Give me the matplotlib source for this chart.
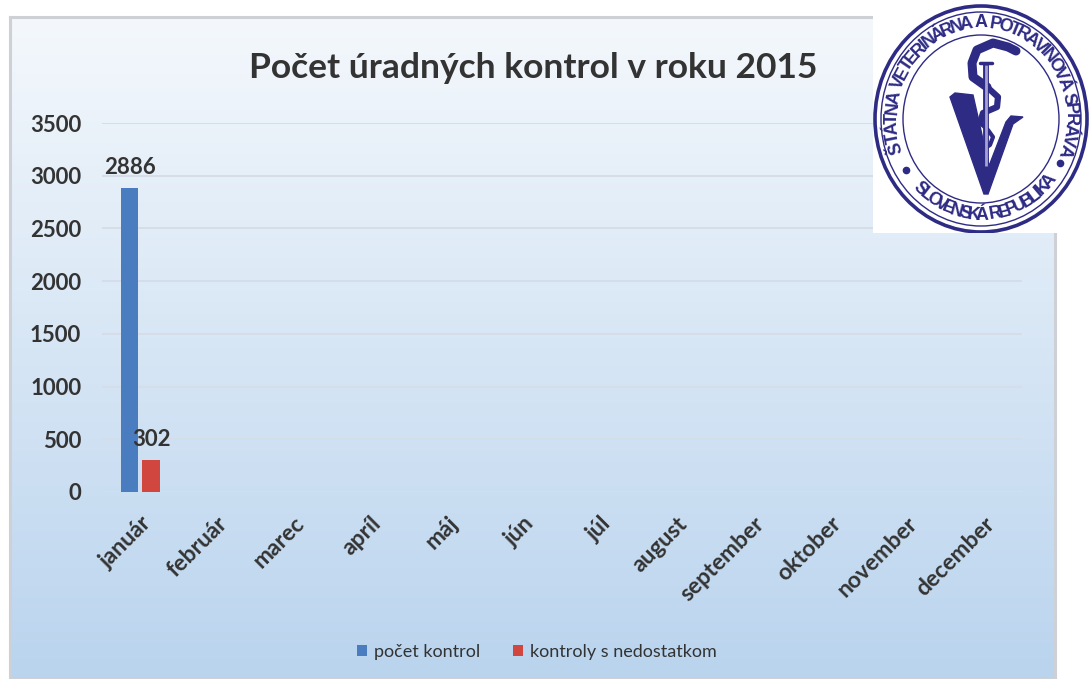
import numpy as np
import matplotlib
matplotlib.use("Agg")
import matplotlib.pyplot as plt
from matplotlib.patches import Ellipse, Polygon
from matplotlib import font_manager as fm
from matplotlib.textpath import TextToPath

months = ["január", "február", "marec", "apríl", "máj", "jún", "júl",
          "august", "september", "oktober", "november", "december"]
pocet_kontrol = [2886] + [np.nan] * 11
s_nedostatkom = [302] + [np.nan] * 11
series_names = ["počet kontrol", "kontroly s nedostatkom"]
yticks = [0, 500, 1000, 1500, 2000, 2500, 3000, 3500]
title = "Počet úradných kontrol v roku 2015"
logo_top = "ŠTÁTNA VETERINÁRNA A POTRAVINOVÁ SPRÁVA"
logo_bottom = "SLOVENSKÁ REPUBLIKA"

plt.rcParams["font.family"] = ["Lato", "DejaVu Sans"]
W, H = 1091, 679
blue, red, txt = "#4a7dbf", "#d1463f", "#333333"
navy = "#2e2b85"


def has_font(name):
    try:
        fm.findfont(name, fallback_to_default=False)
        return True
    except ValueError:
        return False


logo_font = "Liberation Sans Narrow" if has_font("Liberation Sans Narrow") else "Liberation Sans"

fig = plt.figure(figsize=(W / 100, H / 100), dpi=100)

# gradient chart area with thin grey frame
bg = fig.add_axes([10 / W, 0, 1045 / W, 662 / H])
grad = np.linspace(0, 1, 256)[:, None]
top_c = np.array([244, 248, 252]) / 255
bot_c = np.array([186, 212, 238]) / 255
img = top_c[None, None, :] * (1 - grad[..., None]) + bot_c[None, None, :] * grad[..., None]
bg.imshow(img, aspect="auto", extent=[0, 1, 0, 1], origin="upper")
bg.set_xticks([]); bg.set_yticks([])
for s in bg.spines.values():
    s.set_color("#cdd1d6"); s.set_linewidth(2.2)

ax = fig.add_axes([102 / W, (H - 492) / H, 920 / W, 369 / H])
ax.set_facecolor("none")
x = np.arange(len(months))
ax.bar(x - 0.14, pocet_kontrol, 0.23, color=blue, label=series_names[0], zorder=3)
ax.bar(x + 0.14, s_nedostatkom, 0.23, color=red, label=series_names[1], zorder=3)
for vals, off in [(pocet_kontrol, -0.14), (s_nedostatkom, 0.14)]:
    for i, v in enumerate(vals):
        if not np.isnan(v):
            ax.annotate(f"{int(v)}", (x[i] + off, v), xytext=(0, 7), textcoords="offset points",
                        ha="center", va="bottom", fontsize=16, fontweight="bold", color=txt, zorder=4)
ax.set_xlim(-0.5, 11.5)
ax.set_ylim(0, 3500)
ax.set_yticks(yticks)
ax.yaxis.grid(True, color="#d5dee8", lw=1.4)
ax.set_axisbelow(True)
for s in ax.spines.values():
    s.set_visible(False)
ax.tick_params(length=0)
ax.tick_params(axis="y", pad=15, labelsize=16, labelcolor=txt)
ax.set_xticks(x)
ax.set_xticklabels(months, rotation=45, ha="right", rotation_mode="anchor",
                   fontsize=16.5, color=txt)
ax.tick_params(axis="x", pad=15)
for lab in ax.get_xticklabels() + ax.get_yticklabels():
    lab.set_fontweight("bold")

fig.text(533 / W, 1 - 68 / H, title, ha="center", va="center", fontsize=25.5,
         fontweight="bold", color=txt)
fig.legend(loc="center", bbox_to_anchor=(537 / W, 1 - 652 / H), ncol=2, frameon=False,
           fontsize=13, handlelength=0.55, handleheight=0.55, handletextpad=0.4,
           columnspacing=1.8, labelcolor=txt)

# logo of the authority, top right
lax = fig.add_axes([873 / W, 1 - 233 / H, 218 / W, 233 / H], zorder=5)
lax.set_xlim(873, 1091)
lax.set_ylim(233, 0)
lax.set_facecolor("white")
lax.set_xticks([]); lax.set_yticks([])
for s in lax.spines.values():
    s.set_visible(False)
cx, cy = 981, 119
lax.add_patch(Ellipse((cx, cy), 212, 226, fill=False, ec=navy, lw=2.6))
lax.add_patch(Ellipse((cx, cy), 200, 214, fill=False, ec=navy, lw=1.0))
lax.add_patch(Ellipse((cx, cy), 156, 168, fill=False, ec=navy, lw=1.0))
rx, ry = 89, 96
logo_prop = fm.FontProperties(family=logo_font, weight="bold", size=13)
t2p = TextToPath()


def arc_text(text, start, end, rot_off):
    w = np.array([t2p.get_text_width_height_descent("n" if c == " " else c, logo_prop, False)[0]
                  * (0.6 if c == " " else 1.0) for c in text])
    pos = np.concatenate([[0], np.cumsum((w[:-1] + w[1:]) / 2)])
    angles = start + (end - start) * pos / pos[-1]
    for ch, th in zip(text, angles):
        t = np.radians(th)
        lax.text(cx + rx * np.cos(t), cy - ry * np.sin(t), ch, rotation=th + rot_off,
                 ha="center", va="center", fontproperties=logo_prop, color=navy)


arc_text(logo_top, 197, -19, -90)
arc_text(logo_bottom, 227, 320, 90)
for th in (212, 333):
    t = np.radians(th)
    lax.plot(cx + rx * np.cos(t), cy - ry * np.sin(t), "o", color=navy, ms=4.5)
lax.add_patch(Polygon([(950, 97), (955, 93), (973, 95), (989, 166), (1006, 122),
                       (1011, 116), (1023, 117), (1013, 124), (988, 194), (984, 194)],
                      closed=True, fc=navy, ec=navy))
snake_x = [1016, 1008, 993, 977, 972, 973, 987, 998, 997, 983, 980, 988, 993, 990, 985]
snake_y = [51, 47, 43, 50, 63, 77, 87, 97, 107, 113, 123, 130, 137, 145, 148]
lax.plot(snake_x[:7], snake_y[:7], color=navy, lw=6.5, solid_capstyle="round")
lax.plot(snake_x[6:11], snake_y[6:11], color=navy, lw=4.5, solid_capstyle="round")
lax.plot(snake_x[10:], snake_y[10:], color=navy, lw=3, solid_capstyle="round")
lax.plot([986, 986], [63, 168], color=navy, lw=4.2, solid_capstyle="butt")
lax.plot([986, 986], [65, 166], color="#a7a1d4", lw=2.0, solid_capstyle="butt")
lax.plot([980, 992], [63, 63], color=navy, lw=2.5, solid_capstyle="round")

fig.savefig("out.png", dpi=100)
